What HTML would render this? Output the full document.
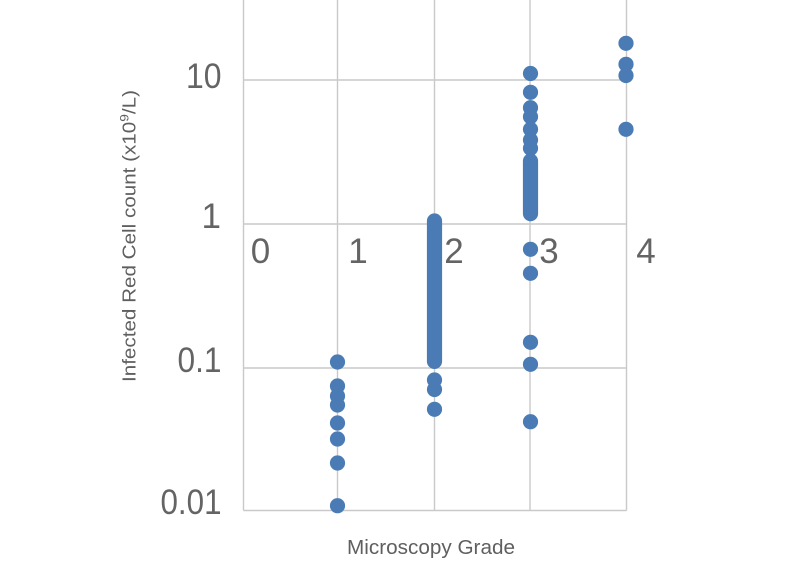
<!DOCTYPE html>
<html><head><meta charset="utf-8"><style>
html,body{margin:0;padding:0;background:#fff;}
svg{display:block;}
</style></head><body>
<svg width="800" height="565" viewBox="0 0 800 565" xmlns="http://www.w3.org/2000/svg">
<rect width="800" height="565" fill="#fff"/>
<g stroke="#c9c9c9" stroke-width="1.4" fill="none">
<line x1="243.5" y1="0" x2="243.5" y2="510.5"/>
<line x1="337.5" y1="0" x2="337.5" y2="510.5"/>
<line x1="434.5" y1="0" x2="434.5" y2="510.5"/>
<line x1="530" y1="0" x2="530" y2="510.5"/>
<line x1="626.5" y1="0" x2="626.5" y2="510.5"/>
<line x1="243.5" y1="80" x2="626.5" y2="80"/>
<line x1="243.5" y1="224" x2="626.5" y2="224"/>
<line x1="243.5" y1="368" x2="626.5" y2="368"/>
<line x1="243.5" y1="510.5" x2="626.5" y2="510.5"/>
</g>
<g font-family="Liberation Sans, sans-serif" fill="#646464" font-size="35">
<text x="221.5" y="88" text-anchor="end" textLength="35.5" lengthAdjust="spacingAndGlyphs">10</text>
<text x="221" y="228" text-anchor="end">1</text>
<text x="221.5" y="372" text-anchor="end" textLength="44" lengthAdjust="spacingAndGlyphs">0.1</text>
<text x="221.5" y="514" text-anchor="end" textLength="61" lengthAdjust="spacingAndGlyphs">0.01</text>
<text x="260.5" y="263" text-anchor="middle">0</text>
<text x="358" y="263" text-anchor="middle">1</text>
<text x="454" y="263" text-anchor="middle">2</text>
<text x="549" y="263" text-anchor="middle">3</text>
<text x="646" y="263" text-anchor="middle">4</text>
</g>
<text x="431" y="554" text-anchor="middle" font-family="Liberation Sans, sans-serif" font-size="20" fill="#5f5f5f" textLength="168" lengthAdjust="spacingAndGlyphs">Microscopy Grade</text>
<text transform="translate(135.5,236) rotate(-90)" text-anchor="middle" font-family="Liberation Sans, sans-serif" font-size="18" fill="#5f5f5f" textLength="292" lengthAdjust="spacingAndGlyphs">Infected Red Cell count (x10<tspan font-size="12" dy="-7">9</tspan><tspan dy="7">/L)</tspan></text>
<g fill="#4a7bb5">
<circle cx="337.5" cy="362" r="7.6"/>
<circle cx="337.5" cy="386" r="7.6"/>
<circle cx="337.5" cy="396" r="7.6"/>
<circle cx="337.5" cy="405" r="7.6"/>
<circle cx="337.5" cy="423" r="7.6"/>
<circle cx="337.5" cy="439" r="7.6"/>
<circle cx="337.5" cy="463" r="7.6"/>
<circle cx="337.5" cy="505.7" r="7.6"/>
<rect x="426.9" y="213.4" width="15.2" height="155.6" rx="7.6" ry="7.6"/>
<circle cx="434.5" cy="380" r="7.6"/>
<circle cx="434.5" cy="389.5" r="7.6"/>
<circle cx="434.5" cy="409.3" r="7.6"/>
<circle cx="530.5" cy="73.5" r="7.6"/>
<circle cx="530.5" cy="92.3" r="7.6"/>
<circle cx="530.5" cy="107.7" r="7.6"/>
<circle cx="530.5" cy="116.7" r="7.6"/>
<circle cx="530.5" cy="129.3" r="7.6"/>
<circle cx="530.5" cy="140" r="7.6"/>
<circle cx="530.5" cy="148.3" r="7.6"/>
<rect x="522.9" y="153.4" width="15.2" height="67.8" rx="7.6" ry="7.6"/>
<circle cx="530.5" cy="249.3" r="7.6"/>
<circle cx="530.5" cy="273.3" r="7.6"/>
<circle cx="530.5" cy="342.3" r="7.6"/>
<circle cx="530.5" cy="364.3" r="7.6"/>
<circle cx="530.5" cy="421.7" r="7.6"/>
<circle cx="626" cy="43.3" r="7.6"/>
<circle cx="626" cy="64.3" r="7.6"/>
<circle cx="626" cy="75.5" r="7.6"/>
<circle cx="626" cy="129.3" r="7.6"/>
</g>
</svg>
</body></html>
